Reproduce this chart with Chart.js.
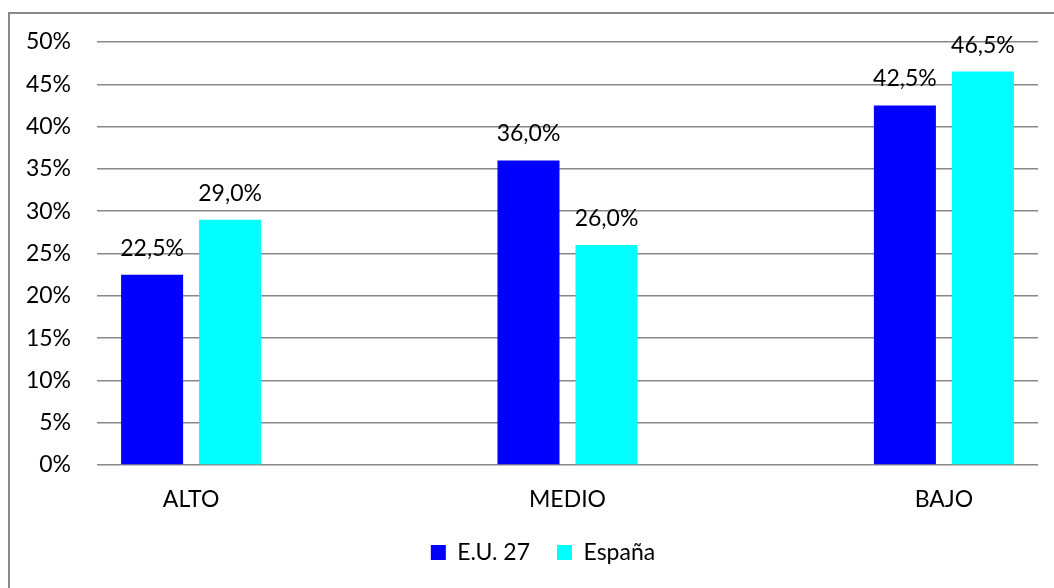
<!DOCTYPE html>
<html>
<head>
<meta charset="utf-8">
<script src="https://cdn.jsdelivr.net/npm/chart.js@4"></script>
<style>
    html, body { margin: 0; padding: 0; background: #fff; overflow: hidden; }
    #wrap { width: 1054px; height: 588px; position: relative; }
</style>
</head>
<body>
<div id="wrap"><canvas id="grafico"></canvas></div>
<script>
// Datos del gráfico
const categorias = ['ALTO', 'MEDIO', 'BAJO'];
const valoresUE = [22.5, 36.0, 42.5];
const valoresEspana = [29.0, 26.0, 46.5];
const nombresSeries = ['E.U. 27', 'España'];
const ticksY = [0, 5, 10, 15, 20, 25, 30, 35, 40, 45, 50];

const fuente = 'Lato, "Open Sans", sans-serif';
const tam = 23;

// Formato con coma decimal: 22,5%
function formatoPct(v) {
    return v.toFixed(1).replace('.', ',') + '%';
}

// Marco gris del gráfico (solo izquierda y arriba quedan dentro del lienzo)
const marco = {
    id: 'marco',
    afterLayout(chart) {
        // la leyenda va centrada respecto al marco, no al área de ejes
        const lg = chart.legend;
        lg.left += 48;
        lg.width = lg.right - lg.left;
    },
    beforeDraw(chart) {
        const ctx = chart.ctx;
        ctx.save();
        ctx.fillStyle = '#fff';
        ctx.fillRect(0, 0, chart.width, chart.height);
        ctx.strokeStyle = '#898989';
        ctx.lineWidth = 2;
        ctx.beginPath();
        ctx.moveTo(9, chart.height);
        ctx.lineTo(9, 13);
        ctx.lineTo(chart.width, 13);
        ctx.stroke();
        ctx.restore();
    }
};

// Etiquetas de valor encima de cada barra
const etiquetas = {
    id: 'etiquetas',
    afterDatasetsDraw(chart) {
        const ctx = chart.ctx;
        ctx.save();
        ctx.font = tam + 'px ' + fuente;
        ctx.fillStyle = '#000';
        ctx.textAlign = 'center';
        ctx.textBaseline = 'alphabetic';
        chart.data.datasets.forEach((ds, i) => {
            const meta = chart.getDatasetMeta(i);
            meta.data.forEach((bar, j) => {
                ctx.fillText(formatoPct(ds.data[j]), bar.x, bar.y - 19);
            });
        });
        ctx.restore();
    }
};

const ctx = document.getElementById('grafico').getContext('2d');
const grafico = new Chart(ctx, {
    type: 'bar',
    data: {
        labels: categorias,
        datasets: [{
            label: nombresSeries[0],
            data: valoresUE,
            backgroundColor: '#0000ff',
            borderWidth: 0
        }, {
            label: nombresSeries[1],
            data: valoresEspana,
            backgroundColor: '#00ffff',
            borderWidth: 0
        }]
    },
    options: {
        responsive: true,
        maintainAspectRatio: false,
        animation: false,
        categoryPercentage: 0.4145,
        barPercentage: 0.795,
        layout: {
            padding: { top: 42, right: 16, bottom: 14, left: 0 }
        },
        plugins: {
            legend: {
                position: 'bottom',
                labels: {
                    boxWidth: 15,
                    boxHeight: 15,
                    padding: 27,
                    color: '#000',
                    font: { family: fuente, size: tam }
                }
            },
            tooltip: { enabled: false }
        },
        scales: {
            x: {
                grid: { display: false },
                border: { display: false },
                ticks: {
                    color: '#000',
                    padding: 13,
                    font: { family: fuente, size: tam }
                },
                // los grupos quedan a un cuarto de categoría de los bordes
                afterBuildTicks: scale => {
                    scale._startValue = -0.25;
                    scale._valueRange = 2.5;
                },
                afterFit: scale => { scale.height = 49; }
            },
            y: {
                min: 0,
                max: 50,
                afterBuildTicks: scale => {
                    scale.ticks = ticksY.map(v => ({ value: v }));
                },
                grid: {
                    color: '#878787',
                    lineWidth: 1.5,
                    drawTicks: false
                },
                border: { display: false },
                ticks: {
                    color: '#000',
                    padding: 26,
                    font: { family: fuente, size: tam },
                    callback: v => v + '%'
                },
                afterFit: scale => { scale.width = 97; }
            }
        }
    },
    plugins: [marco, etiquetas]
});
</script>
</body>
</html>
